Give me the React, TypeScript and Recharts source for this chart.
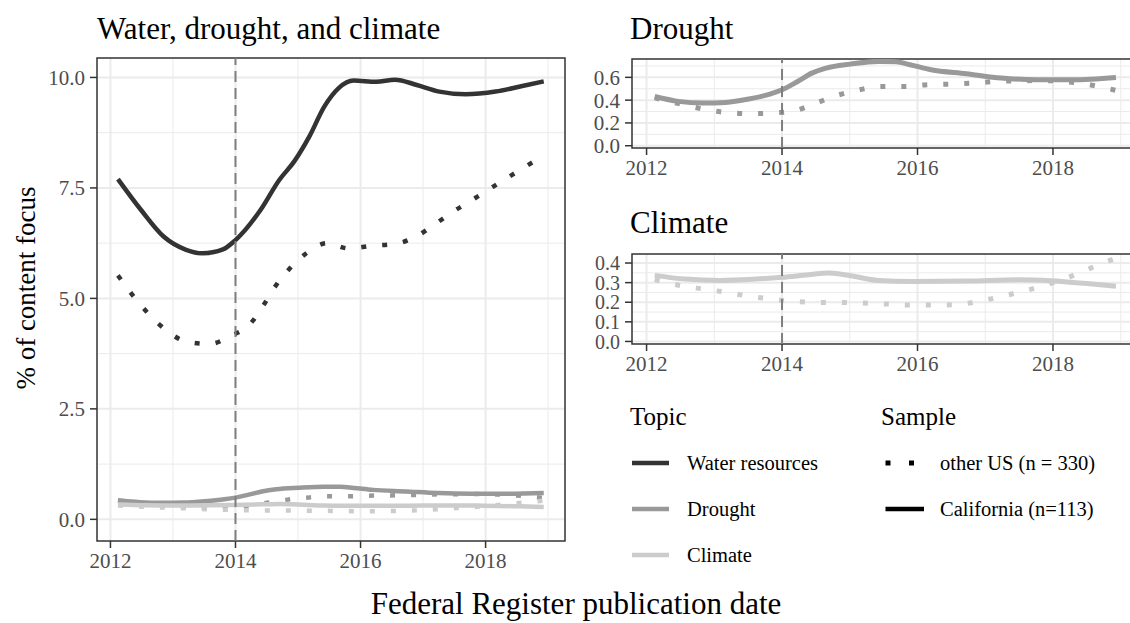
import React from 'react';
import { LineChart, Line, XAxis, YAxis, CartesianGrid, ReferenceLine, ReferenceArea } from 'recharts';

type Pt = { x: number; y: number };
const toPts = (a: number[][]): Pt[] => a.map(([x, y]) => ({ x, y }));

// ---- data (year, % of content focus) ----
const waterCA = [
  [2012.12, 7.7], [2012.49, 7.0], [2012.85, 6.4], [2013.21, 6.1], [2013.47, 6.02], [2013.8, 6.11],
  [2014.0, 6.32], [2014.4, 7.0], [2014.7, 7.68], [2014.94, 8.1], [2015.18, 8.66], [2015.42, 9.34],
  [2015.65, 9.76], [2015.89, 9.93], [2016.25, 9.9], [2016.55, 9.95], [2016.9, 9.83], [2017.26, 9.68],
  [2017.68, 9.62], [2018.16, 9.68], [2018.57, 9.8], [2018.93, 9.91],
];
const waterUS = [
  [2012.12, 5.52], [2012.39, 5.01], [2012.63, 4.62], [2012.9, 4.27], [2013.22, 4.02], [2013.58, 3.97],
  [2013.93, 4.15], [2014.24, 4.43], [2014.45, 4.85], [2014.64, 5.28], [2014.87, 5.68], [2015.14, 6.03],
  [2015.46, 6.25], [2015.81, 6.13], [2016.17, 6.19], [2016.54, 6.23], [2016.89, 6.4], [2017.19, 6.68],
  [2017.5, 6.98], [2017.81, 7.25], [2018.11, 7.52], [2018.43, 7.8], [2018.74, 8.07], [2018.93, 8.22],
];
const droughtCA = [
  [2012.12, 0.432], [2012.47, 0.389], [2012.83, 0.374], [2013.17, 0.38], [2013.51, 0.41], [2013.82, 0.453],
  [2014.0, 0.491], [2014.23, 0.564], [2014.44, 0.637], [2014.65, 0.681], [2015.01, 0.716], [2015.42, 0.74],
  [2015.68, 0.737], [2015.89, 0.711], [2016.2, 0.667], [2016.72, 0.632], [2017.24, 0.594], [2017.76, 0.579],
  [2018.28, 0.579], [2018.93, 0.599],
];
const droughtUS = [
  [2012.12, 0.42], [2012.5, 0.366], [2012.83, 0.322], [2013.17, 0.292], [2013.51, 0.281], [2013.84, 0.287],
  [2014.18, 0.307], [2014.5, 0.374], [2014.81, 0.441], [2015.14, 0.491], [2015.47, 0.52], [2015.8, 0.52],
  [2016.14, 0.535], [2016.48, 0.541], [2016.82, 0.55], [2017.15, 0.564], [2017.5, 0.57], [2017.82, 0.572],
  [2018.15, 0.564], [2018.49, 0.541], [2018.82, 0.5], [2018.93, 0.485],
];
const climateCA = [
  [2012.12, 0.337], [2012.57, 0.318], [2013.09, 0.311], [2013.61, 0.318], [2014.0, 0.327], [2014.39, 0.34],
  [2014.7, 0.349], [2015.01, 0.335], [2015.42, 0.311], [2015.94, 0.306], [2016.72, 0.308], [2017.5, 0.315],
  [2017.97, 0.31], [2018.54, 0.294], [2018.93, 0.281],
];
const climateUS = [
  [2012.12, 0.315], [2012.52, 0.284], [2012.85, 0.267], [2013.19, 0.25], [2013.52, 0.23], [2013.85, 0.216],
  [2014.19, 0.204], [2014.53, 0.199], [2014.86, 0.199], [2015.2, 0.196], [2015.54, 0.191], [2015.88, 0.186],
  [2016.21, 0.186], [2016.55, 0.187], [2016.88, 0.203], [2017.21, 0.227], [2017.54, 0.255], [2017.86, 0.284],
  [2018.2, 0.323], [2018.5, 0.366], [2018.8, 0.408], [2018.93, 0.425],
];

const yearTicks = [2012, 2014, 2016, 2018];
const yearMinor = [2013, 2015, 2017, 2019];
const mainTicks = [0, 2.5, 5, 7.5, 10];
const mainMinor = [1.25, 3.75, 6.25, 8.75];
const droughtTicks = [0, 0.2, 0.4, 0.6];
const droughtMinor = [0.1, 0.3, 0.5, 0.7];
const climateTicks = [0, 0.1, 0.2, 0.3, 0.4];
const climateMinor = [0.05, 0.15, 0.25, 0.35];

const topics = ['Water resources', 'Drought', 'Climate'];
const samples = ['other US (n = 330)', 'California (n=113)'];
const topicColors = ['#333333', '#999999', '#CCCCCC'];

const FONT = "'Liberation Serif', 'Times New Roman', 'DejaVu Serif', serif";
const X_DOMAIN: [number, number] = [2011.785, 2019.27];
const DOT = '5 16';

type Series = { data: Pt[]; color: string; dotted: boolean };

const mainSeries: Series[] = [
  { data: toPts(waterCA), color: topicColors[0], dotted: false },
  { data: toPts(waterUS), color: topicColors[0], dotted: true },
  { data: toPts(droughtCA), color: topicColors[1], dotted: false },
  { data: toPts(droughtUS), color: topicColors[1], dotted: true },
  { data: toPts(climateCA), color: topicColors[2], dotted: false },
  { data: toPts(climateUS), color: topicColors[2], dotted: true },
];
const droughtSeries: Series[] = [
  { data: toPts(droughtCA), color: topicColors[1], dotted: false },
  { data: toPts(droughtUS), color: topicColors[1], dotted: true },
];
const climateSeries: Series[] = [
  { data: toPts(climateCA), color: topicColors[2], dotted: false },
  { data: toPts(climateUS), color: topicColors[2], dotted: true },
];

type PanelProps = {
  left: number; top: number; width: number; height: number;
  margin: { top: number; right: number; bottom: number; left: number };
  yAxisWidth: number; xAxisHeight: number;
  yDomain: [number, number]; yTicks: number[]; yMinor: number[];
  series: Series[]; lineWidth: number; fmt: (v: number) => string; yFont: number;
};

function Panel(p: PanelProps) {
  const xTickStyle = { fill: '#4D4D4D', fontSize: 21, fontFamily: FONT };
  const yTickStyle = { fill: '#4D4D4D', fontSize: p.yFont, fontFamily: FONT };
  return (
    <div style={{ position: 'absolute', left: p.left, top: p.top }}>
      <LineChart width={p.width} height={p.height} margin={p.margin}>
        <CartesianGrid stroke="#EBEBEB" strokeWidth={1} horizontalValues={p.yMinor} verticalValues={yearMinor} />
        <CartesianGrid stroke="#EBEBEB" strokeWidth={2} horizontalValues={p.yTicks} verticalValues={yearTicks} />
        <XAxis
          type="number" dataKey="x" domain={X_DOMAIN} ticks={yearTicks} interval={0} allowDataOverflow
          axisLine={false} tickLine={{ stroke: '#333333', strokeWidth: 1.5 }} tickSize={7} tickMargin={5}
          tick={xTickStyle} height={p.xAxisHeight}
        />
        <YAxis
          type="number" domain={p.yDomain} ticks={p.yTicks} interval={0} allowDataOverflow
          axisLine={false} tickLine={{ stroke: '#333333', strokeWidth: 1.5 }} tickSize={7} tickMargin={5}
          tick={yTickStyle} width={p.yAxisWidth} tickFormatter={p.fmt}
        />
        {p.series.map((s, i) => (
          <Line
            key={i} data={s.data} dataKey="y" type="monotone" stroke={s.color} strokeWidth={p.lineWidth}
            strokeDasharray={s.dotted ? DOT : undefined} strokeLinecap="butt" dot={false} activeDot={false}
            isAnimationActive={false} legendType="none"
          />
        ))}
        <ReferenceLine x={2014} stroke="#7F7F7F" strokeWidth={2} strokeDasharray="11 6" />
        <ReferenceArea
          x1={X_DOMAIN[0]} x2={X_DOMAIN[1]} y1={p.yDomain[0]} y2={p.yDomain[1]}
          fill="none" fillOpacity={0} stroke="#333333" strokeWidth={1.5} ifOverflow="visible"
        />
      </LineChart>
    </div>
  );
}

export default function App() {
  const f1 = (v: number) => v.toFixed(1);
  return (
    <div style={{ position: 'absolute', left: 0, top: 0, width: 1130, height: 623, overflow: 'hidden', background: '#fff' }}>
      <Panel
        left={0} top={0} width={570} height={586} margin={{ top: 58, right: 5, bottom: 0, left: 0 }}
        yAxisWidth={97} xAxisHeight={45} yDomain={[-0.49, 10.44]} yTicks={mainTicks} yMinor={mainMinor}
        series={mainSeries} lineWidth={4.5} fmt={f1} yFont={21}
      />
      <Panel
        left={580} top={0} width={562} height={188} margin={{ top: 59, right: 3, bottom: 0, left: 0 }}
        yAxisWidth={52} xAxisHeight={40} yDomain={[-0.02, 0.761]} yTicks={droughtTicks} yMinor={droughtMinor}
        series={droughtSeries} lineWidth={5} fmt={f1} yFont={21}
      />
      <Panel
        left={580} top={200} width={562} height={184} margin={{ top: 54, right: 3, bottom: 0, left: 0 }}
        yAxisWidth={52} xAxisHeight={40} yDomain={[-0.013, 0.446]} yTicks={climateTicks} yMinor={climateMinor}
        series={climateSeries} lineWidth={5} fmt={f1} yFont={20}
      />
      <svg width={1130} height={623} style={{ position: 'absolute', left: 0, top: 0, pointerEvents: 'none' }}>
        <g fontFamily={FONT} fill="#000">
          <text x={97} y={39} fontSize={31}>Water, drought, and climate</text>
          <text x={630} y={39} fontSize={31}>Drought</text>
          <text x={630} y={233} fontSize={31}>Climate</text>
          <text x={576} y={614} fontSize={31} textAnchor="middle">Federal Register publication date</text>
          <text x={0} y={0} fontSize={27} textAnchor="middle" transform="translate(35,288) rotate(-90)">% of content focus</text>
          <text x={630} y={425} fontSize={25}>Topic</text>
          <text x={881} y={425} fontSize={25}>Sample</text>
          {topics.map((t, i) => (
            <g key={t}>
              <line x1={632} x2={669} y1={463 + i * 46} y2={463 + i * 46} stroke={topicColors[i]} strokeWidth={4.5} />
              <text x={687} y={470 + i * 46} fontSize={20.5}>{t}</text>
            </g>
          ))}
          <line x1={885.5} x2={914} y1={463} y2={463} stroke="#000" strokeWidth={5} strokeDasharray="5 18.5" />
          <text x={940} y={470} fontSize={20.5}>{samples[0]}</text>
          <line x1={885.5} x2={924} y1={509} y2={509} stroke="#000" strokeWidth={4.5} />
          <text x={940} y={516} fontSize={20.5}>{samples[1]}</text>
        </g>
      </svg>
    </div>
  );
}
